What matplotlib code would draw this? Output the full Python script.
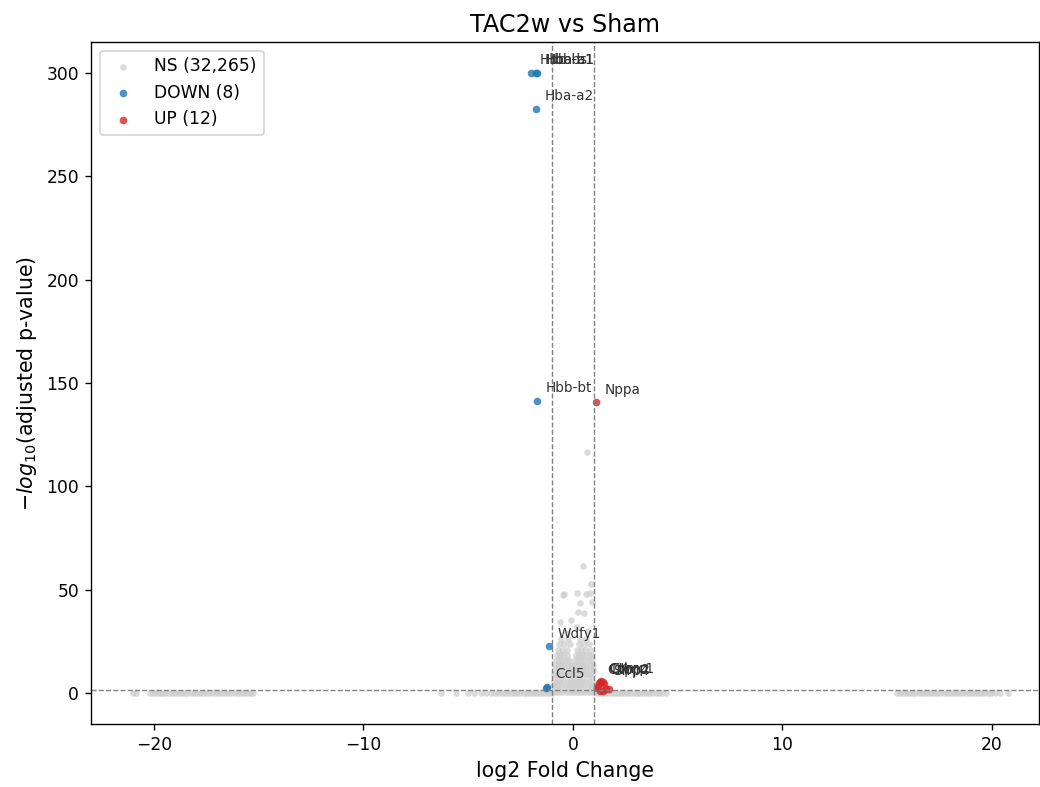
import matplotlib
matplotlib.use("Agg")
import matplotlib.pyplot as plt
import numpy as np

# volcano data (log2FC, -log10 padj)
band_left_x = [-21.0, -20.85, -20.2, -20.05, -19.9, -19.75, -19.6, -19.45, -19.3, -19.15,
               -19.0, -18.85, -18.7, -18.55, -18.4, -18.25, -18.1, -17.95, -17.8, -17.65,
               -17.5, -17.35, -17.2, -17.05, -16.9, -16.75, -16.6, -16.45, -16.3, -16.15,
               -16.0, -15.85, -15.7, -15.55, -15.4, -15.25]
band_right_x = [15.45, 15.6, 15.75, 15.9, 16.05, 16.2, 16.35, 16.5, 16.65, 16.8, 16.95,
                17.1, 17.25, 17.4, 17.55, 17.7, 17.85, 18.0, 18.15, 18.3, 18.45, 18.6,
                18.75, 18.9, 19.05, 19.2, 19.35, 19.5, 19.65, 19.8, 19.95, 20.15, 20.4,
                20.75]
band_mid_x = [-6.3, -5.6, -5.0, -4.7, -4.4, -4.15, -3.9, -3.7, -3.55, -3.4, -3.25, -3.1,
              -2.95, -2.8, -2.65, -2.5, -2.35, -2.2, -2.05, -1.9, -1.75, -1.6, -1.45,
              -1.3, -1.15, -1.0, 1.1, 1.25, 1.4, 1.55, 1.7, 1.85, 2.0, 2.15, 2.3, 2.45,
              2.6, 2.75, 2.9, 3.05, 3.2, 3.35, 3.5, 3.65, 3.8, 3.95, 4.1, 4.25, 4.45]

cloud_levels = [0.3, 3.5, 6.0, 8.5, 11.0, 13.5, 16.0, 18.5, 21.0, 23.5, 26.0]
cloud_rows = [
    [-0.95, -0.8, -0.65, -0.5, -0.35, -0.2, -0.05, 0.1, 0.25, 0.4, 0.55, 0.7, 0.85, 1.0],
    [-0.95, -0.8, -0.65, -0.5, -0.35, -0.2, -0.05, 0.1, 0.25, 0.4, 0.55, 0.7, 0.85, 1.0],
    [-0.9, -0.75, -0.6, -0.45, -0.3, -0.15, 0.0, 0.15, 0.3, 0.45, 0.6, 0.75, 0.9],
    [-0.9, -0.75, -0.6, -0.45, -0.3, -0.15, 0.0, 0.15, 0.3, 0.45, 0.6, 0.75, 0.9],
    [-0.85, -0.7, -0.55, -0.4, -0.25, -0.1, 0.05, 0.2, 0.35, 0.5, 0.65, 0.8, 0.95],
    [-0.85, -0.7, -0.55, -0.4, -0.25, -0.1, 0.05, 0.2, 0.35, 0.5, 0.65, 0.8, 0.95],
    [-0.8, -0.65, -0.5, -0.35, -0.2, 0.1, 0.25, 0.4, 0.55, 0.7, 0.85],
    [-0.75, -0.6, -0.45, -0.3, 0.15, 0.3, 0.45, 0.6, 0.75, 0.9],
    [-0.7, -0.5, -0.3, 0.2, 0.4, 0.6, 0.8],
    [-0.65, -0.4, -0.15, 0.3, 0.55, 0.75],
    [-0.55, -0.25, 0.35, 0.65],
]
sparse_x = [0.67, 0.48, 0.86, -0.48, -0.4, 0.19, 0.62, 0.81, 0.33, 0.9, 0.24, 0.52,
            -0.62, -0.1, 0.19, 0.72, -0.3]
sparse_y = [116.4, 61.4, 52.7, 47.3, 47.8, 48.3, 47.8, 48.3, 43.5, 44.0, 39.0, 38.6,
            34.3, 35.3, 31.9, 30.0, 29.0]

down_genes = ["Hbb-bs", "Hbb-b1", "Hba-a1", "Hba-a2", "Hbb-bt", "Wdfy1", "Ccl5", ""]
down_x = [-2.0, -1.75, -1.72, -1.77, -1.72, -1.15, -1.24, -1.3]
down_y = [300.0, 300.0, 300.0, 282.6, 141.5, 22.7, 3.0, 2.5]

up_genes = ["Nppa", "Cthrc1", "Comp", "Ltbp2", "Cilp", "Sfrp4", "", "", "", "", "", ""]
up_x = [1.1, 1.35, 1.3, 1.45, 1.25, 1.5, 1.2, 1.6, 1.75, 1.15, 1.45, 1.3]
up_y = [140.6, 5.8, 5.5, 5.2, 5.0, 4.6, 3.5, 2.0, 1.8, 2.4, 1.2, 1.0]

n_ns = 32265
fc_cut = 1.0
padj_cut = 0.05

ns_x = band_left_x + band_right_x + band_mid_x + sparse_x
ns_y = [0.0] * (len(band_left_x) + len(band_right_x) + len(band_mid_x)) + sparse_y
for lev, row in zip(cloud_levels, cloud_rows):
    ns_x += row
    ns_y += [lev] * len(row)

DPI = 123
fig = plt.figure(figsize=(1040 / DPI, 787 / DPI), dpi=DPI)
ax = fig.add_axes([0.0875, 0.080, 0.9115, 0.8666])

ax.scatter(ns_x, ns_y, s=15, color="#cccccc", alpha=0.7, linewidths=0,
           label="NS ({:,})".format(n_ns))
ax.scatter(down_x, down_y, s=20, color="#1f77b4", alpha=0.8, linewidths=0,
           label="DOWN ({})".format(len(down_x)))
ax.scatter(up_x, up_y, s=20, color="#d62728", alpha=0.8, linewidths=0,
           label="UP ({})".format(len(up_x)))

ax.axvline(-fc_cut, color="grey", linestyle="--", linewidth=0.8)
ax.axvline(fc_cut, color="grey", linestyle="--", linewidth=0.8)
ax.axhline(-np.log10(padj_cut), color="grey", linestyle="--", linewidth=0.8)

for g, x, y in zip(down_genes + up_genes, down_x + up_x, down_y + up_y):
    if g:
        ax.annotate(g, (x, y), xytext=(5, 5), textcoords="offset points", fontsize=8,
                    color="#333333")

ax.set_xlim(-23.0, 22.25)
ax.set_ylim(-15, 315)
ax.set_xlabel("log2 Fold Change", fontsize=12)
ax.set_ylabel(r"$-log_{10}$(adjusted p-value)", fontsize=12)
ax.set_title("TAC2w vs Sham", fontsize=14)
ax.legend(loc="upper left")

fig.savefig("out.png", dpi=DPI)
